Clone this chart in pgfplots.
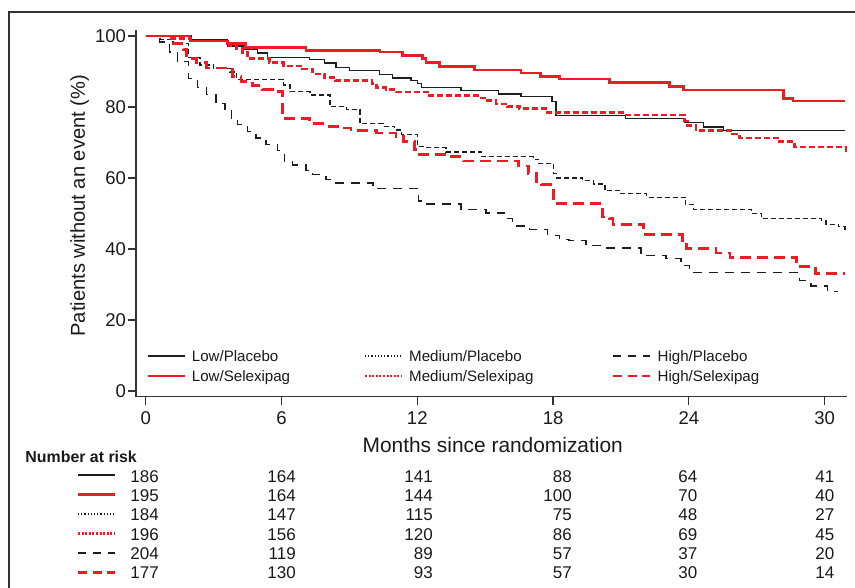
\documentclass[border=0pt]{standalone}
\usepackage{fontspec}
\setmainfont{Liberation Sans}
\usepackage{pgfplots}
\pgfplotsset{compat=1.18}
\definecolor{kmred}{RGB}{237,28,36}
\definecolor{axgray}{RGB}{51,51,51}
\definecolor{kmblack}{RGB}{30,30,30}
\definecolor{txt}{RGB}{25,25,25}
\tikzset{
  sLP/.style={kmblack, line width=1.3pt, solid},
  sLS/.style={kmred, line width=2.8pt, solid},
  sMPk/.style={kmblack, line width=1.1pt, dash pattern=on 1.2pt off 2pt},
  sMSk/.style={kmred, line width=2.2pt, dash pattern=on 2pt off 1.6pt},
  sHPk/.style={kmblack, line width=1.3pt, dash pattern=on 8pt off 7pt},
  sHSk/.style={kmred, line width=2.8pt, dash pattern=on 9pt off 5.7pt},
  legtxt/.style={anchor=base west, inner sep=0pt, font=\fontsize{15.1}{15.1}\selectfont, text=txt},
  numtxt/.style={anchor=base east, inner sep=0pt, font=\fontsize{17}{17}\selectfont, text=txt},
}
\begin{document}
\begin{tikzpicture}
\begin{axis}[
  x=22.63pt, y=3.55pt,
  xmin=-0.43, xmax=31.0, ymin=-1.6, ymax=101.7,
  axis lines=left,
  axis line style={-, axgray, line width=1.3pt},
  xtick={0,6,12,18,24,30}, ytick={0,20,40,60,80,100},
  tick align=outside, major tick length=8pt,
  tick style={axgray, line width=1.3pt},
  /pgf/number format/assume math mode=true,
  ticklabel style={font=\fontsize{18.5}{18.5}\selectfont, text=txt},
  xticklabel style={yshift=-3pt},
  yticklabel style={xshift=1.5pt},
  clip=false,
  xlabel={Months since randomization},
  ylabel={Patients without an event (\%)},
  xlabel style={at={(axis description cs:0.5016,-0.1527)}, anchor=base, font=\fontsize{20.9}{20.9}\selectfont, text=txt},
  ylabel style={at={(axis description cs:-0.0717,0.5206)}, anchor=base, font=\fontsize{20.1}{20.1}\selectfont, text=txt},
]
\coordinate (O) at (axis cs:0,0);

% High/Placebo
\addplot[const plot, kmblack, line width=1.3pt, dash pattern=on 9pt off 7pt] coordinates {
(0,100) (0.6,98.3) (1.05,95.5) (1.4,92.9) (1.9,88.0) (2.3,85.5) (2.7,83.5) (3.1,81.0) (3.5,79.0) (3.8,76.5)
(4.06,75.0) (4.5,73.1) (4.87,71.3) (5.32,69.4) (5.83,67.8) (6.12,64.7) (6.5,63.7) (7.08,62.2) (7.38,60.9)
(7.97,59.5) (8.41,58.6) (10.05,57.0) (12.07,53.5) (12.4,52.7) (13.93,51.2) (15.04,50.1) (15.85,48.6)
(16.2,46.5) (16.95,45.5) (17.76,43.9) (18.28,42.7) (18.7,42.3) (19.46,41.0) (20.2,40.3) (21.89,38.2)
(22.99,37.4) (23.65,35.3) (24.02,33.4) (28.9,31.2) (29.4,29.6) (30.14,28.0) (30.6,28.0)};
% Medium/Placebo
\addplot[const plot, kmblack, line width=1.3pt, dash pattern=on 5pt off 3pt] coordinates {
(0,100) (0.63,99.1) (1.2,97.9) (1.88,93.9) (2.4,91.8) (2.99,90.9) (3.73,89.9) (4.02,87.8) (6.08,86.2)
(6.38,84.3) (7.26,83.4) (8.14,80.1) (8.88,79.2) (9.47,75.4) (10.5,74.6) (11.0,73.5) (11.3,72.3)
(12.0,68.9) (12.4,68.5) (13.27,67.3) (14.85,66.0) (17.13,65.3) (17.35,64.1) (18.01,61.3) (18.16,60.0)
(19.31,59.2) (19.78,58.3) (20.3,56.5) (21.0,55.6) (22.12,54.6) (23.85,52.6) (24.22,51.2) (26.76,50.0)
(27.2,48.6) (29.85,48.1) (30.06,47.0) (30.62,46.3) (30.9,44.9)};
% Low/Placebo
\addplot[const plot, kmblack, line width=1.3pt] coordinates {
(0,100) (2.0,99.0) (3.6,97.2) (4.36,96.2) (4.95,95.2) (5.39,94.0) (7.23,93.3) (7.9,92.4) (8.41,91.2)
(9.0,90.2) (10.32,89.1) (10.9,88.2) (11.72,87.5) (12.0,86.6) (12.2,85.5) (13.93,84.7) (15.6,83.7)
(16.58,83.0) (17.95,81.6) (18.13,77.6) (21.2,76.7) (23.8,75.7) (24.64,74.4) (25.52,73.3) (30.9,73.3)};
% High/Selexipag
\addplot[const plot, kmred, line width=2.8pt, dash pattern=on 11pt off 6pt] coordinates {
(0,100) (1.15,97.9) (1.66,96.1) (1.81,93.7) (2.25,92.5) (2.7,91.0) (3.84,88.5) (4.21,87.2) (4.73,86.0)
(5.17,84.9) (5.61,84.3) (6.05,76.7) (7.23,75.3) (7.97,74.6) (8.56,74.1) (9.07,73.3) (10.2,72.7)
(11.06,71.7) (11.4,70.3) (11.87,68.0) (12.1,66.6) (13.5,66.0) (14.03,64.8) (16.47,63.4) (16.9,61.3)
(17.28,59.0) (17.5,58.2) (18.01,53.3) (18.2,52.8) (20.19,49.0) (20.5,48.7) (20.65,47.0) (22.0,44.0)
(23.73,42.5) (23.9,40.2) (25.2,38.9) (25.82,37.5) (28.75,35.1) (29.6,33.0) (30.9,33.0)};
% Medium/Selexipag
\addplot[const plot, kmred, line width=2.6pt, dash pattern=on 6pt off 3pt] coordinates {
(0,100) (1.0,99.3) (2.0,98.6) (3.7,97.3) (4.0,96.4) (4.28,95.4) (4.5,93.6) (5.46,92.6) (6.1,91.6)
(6.94,90.7) (7.38,89.3) (7.9,88.3) (8.4,87.5) (10.0,86.6) (10.2,85.5) (10.62,84.9) (11.06,84.2)
(12.46,83.2) (14.67,82.5) (15.1,81.8) (15.48,80.9) (16.0,80.2) (16.51,79.5) (17.69,78.5) (21.22,77.7)
(23.8,76.1) (23.95,74.8) (24.32,73.3) (25.94,72.4) (26.23,71.3) (28.0,70.3) (28.66,68.7) (30.9,68.7)
(30.95,66.8)};
% Low/Selexipag
\addplot[const plot, kmred, line width=2.8pt] coordinates {
(0,100) (1.96,98.6) (3.6,97.8) (4.4,96.8) (7.08,96.0) (10.35,95.5) (11.36,94.5) (12.24,93.6)
(12.39,92.6) (12.97,91.5) (14.52,90.4) (16.58,89.6) (17.45,88.6) (18.29,87.9) (20.49,87.0)
(23.14,85.8) (23.76,84.8) (28.2,82.5) (28.6,81.7) (30.9,81.7)};
\end{axis}

\begin{scope}[shift={(O)}, xshift=-145.7pt, yshift=391pt, x=1pt, y=-1pt]
  \draw[axgray, line width=2pt] (9,620) -- (9,12) -- (880,12);
  % legend
  \draw[sLP]  (148,356) -- (185,356);   \node[legtxt] at (191.7,361.7) {Low/Placebo};
  \draw[sLS]  (148,376) -- (185,376);   \node[legtxt] at (191.7,381.7) {Low/Selexipag};
  \draw[sMPk] (365,356) -- (402,356);   \node[legtxt] at (409,361.7) {Medium/Placebo};
  \draw[sMSk] (365,376) -- (402,376);   \node[legtxt] at (409,381.7) {Medium/Selexipag};
  \draw[sHPk] (613,356) -- (650,356);   \node[legtxt] at (657.5,361.7) {High/Placebo};
  \draw[sHSk] (613,376) -- (650,376);   \node[legtxt] at (657.5,381.7) {High/Selexipag};
  % number at risk
  \node[anchor=base west, inner sep=0pt, font=\bfseries\fontsize{15.9}{15.9}\selectfont, text=txt] at (25.3,462.3) {Number at risk};
  \draw[sLP] (78,475) -- (115,475);
  \draw[sLS] (78,494.5) -- (115,494.5);
  \draw[sMPk] (78,514) -- (115,514);
  \draw[sMSk] (78,533.5) -- (115,533.5);
  \draw[sHPk] (78,553) -- (115,553);
  \draw[sHSk] (78,572.5) -- (115,572.5);
  \def\row#1#2#3#4#5#6#7{%
    \node[numtxt] at (159,#1) {#2};
    \node[numtxt] at (296,#1) {#3};
    \node[numtxt] at (433,#1) {#4};
    \node[numtxt] at (572,#1) {#5};
    \node[numtxt] at (697.5,#1) {#6};
    \node[numtxt] at (834.5,#1) {#7};}
  \row{482.3}{186}{164}{141}{88}{64}{41}
  \row{501.5}{195}{164}{144}{100}{70}{40}
  \row{520.8}{184}{147}{115}{75}{48}{27}
  \row{540.1}{196}{156}{120}{86}{69}{45}
  \row{559.3}{204}{119}{89}{57}{37}{20}
  \row{578.4}{177}{130}{93}{57}{30}{14}
  \pgfresetboundingbox
  \useasboundingbox (0,0) rectangle (855,587);
\end{scope}
\end{tikzpicture}
\end{document}
